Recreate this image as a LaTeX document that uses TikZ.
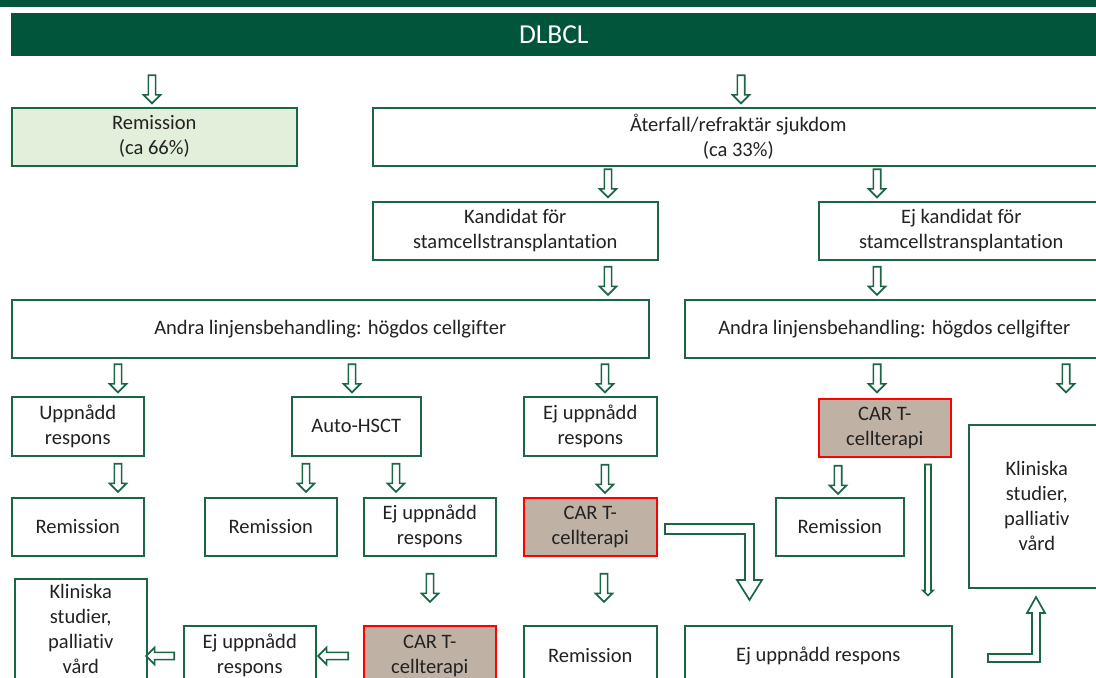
\documentclass[tikz,border=0pt]{standalone}
\usepackage{fontspec}
\setmainfont{Carlito}[Ligatures={NoCommon}]
\usepackage{tikz}
\usetikzlibrary{positioning,calc,shapes.arrows}
\definecolor{morkgron}{HTML}{00553B}
\definecolor{gron}{HTML}{1B6645}
\definecolor{ljusgron}{HTML}{E2EFDA}
\definecolor{brun}{HTML}{C0B1A5}
\definecolor{textgra}{HTML}{222222}
\tikzset{
     ruta/.style 2 args = {draw=gron, line width=1.1pt, fill=white, text=textgra,
                           minimum width=#1*0.025cm, minimum height=#2*0.025cm,
                           inner sep=0pt, align=center, anchor=north west,
                           font=\fontsize{14.6pt}{17.7pt}\selectfont},
     ljus/.style = {fill=ljusgron},
     cart/.style = {draw=red, fill=brun},     % CAR T-rutor
      pil/.style = {single arrow, draw=gron, fill=white, line width=1.2pt,
                    minimum height=0.7cm, inner sep=0.07cm,
                    single arrow head extend=0.12cm, single arrow head indent=0pt},
      ned/.style = {pil, rotate=-90},
  vanster/.style = {pil, rotate=180},
   pilram/.style = {draw=gron, fill=white, line width=1.2pt, line join=miter},
}

\begin{document}
\begin{tikzpicture}[x=0.025cm,y=-0.025cm]
 \path[use as bounding box, clip] (0,0) rectangle (1096,677);
 \fill[morkgron] (0,0) rectangle (1096,7);
 \node[ruta={1086}{43}, fill=morkgron, draw=none, text=white,
       font=\fontsize{19.5pt}{22pt}\selectfont] (dlbcl) at (10,12) {DLBCL};
 % nivå 1
 \node[ruta={285}{58}, ljus] (rem0) at (11,107) {Remission\\(ca 66\%)};
 \node[ruta={731}{58}] (aterfall) at (372,107) {Återfall/refraktär sjukdom\\(ca 33\%)};
 % nivå 2
 \node[ruta={285}{58}] (kand) at (372,201) {Kandidat för\\stamcellstransplantation};
 \node[ruta={285}{58}] (ejkand) at (818,201) {Ej kandidat för\\stamcellstransplantation};
 \node[ruta={637}{58}] (andraV) at (11,299) {Andra linjensbehandling: högdos cellgifter};
 \node[ruta={419}{58}] (andraH) at (684,299) {Andra linjensbehandling: högdos cellgifter};
 % nivå 3
 \node[ruta={132}{59}] (uppn) at (11,396) {Uppnådd\\respons};
 \node[ruta={129}{59}] (auto) at (291,396) {Auto-HSCT};
 \node[ruta={133}{59}] (ejupp1) at (523,396) {Ej uppnådd\\respons};
 \node[ruta={132}{58}, cart] (cart1) at (818,398) {CAR T-\\cellterapi};
 \node[ruta={136}{163}] (klin1) at (968,424) {Kliniska\\studier,\\palliativ\\vård};
 % nivå 4
 \node[ruta={132}{58}] (rem1) at (11,497) {Remission};
 \node[ruta={132}{58}] (rem2) at (204,497) {Remission};
 \node[ruta={132}{58}] (ejupp2) at (363,497) {Ej uppnådd\\respons};
 \node[ruta={133}{58}, cart] (cart2) at (523,497) {CAR T-\\cellterapi};
 \node[ruta={128}{58}] (rem3) at (775,497) {Remission};
 % nivå 5
 \node[ruta={132}{100}] (klin2) at (14,578) {Kliniska\\studier,\\palliativ\\vård};
 \node[ruta={132}{60}] (ejupp3) at (183,625) {Ej uppnådd\\respons};
 \node[ruta={132}{60}, cart] (cart3) at (363,625) {CAR T-\\cellterapi};
 \node[ruta={133}{60}] (rem4) at (523,625) {Remission};
 \node[ruta={267}{60}] (ejupp4) at (684,625) {Ej uppnådd respons};
 % pilar
 \foreach \x/\y [count=\i] in {152/87.5, 741/87.5, 608/181.5, 877/181.5, 608/279,
     877/279, 118/376.5, 352/376.5, 605/376.5, 877/376.5, 1066/376.5, 118/476,
     306/476, 396/476, 605/477, 838/478, 430/586, 604/586}
   \node[ned] (p\i) at (\x,\y) {};
 \node[vanster] (v1) at (162,656) {};
 \node[vanster, minimum height=0.75cm] (v2) at (335,656) {};
 \node[pil, rotate=-90, minimum height=131*0.025cm, inner sep=0.055cm,
       single arrow head extend=0.05cm] (lang) at (928,528.5) {};
 \draw[pilram] (665,524) -- (754,524) -- (754,580) -- (762,580) -- (749.5,600)
   -- (737,580) -- (745,580) -- (745,534) -- (665,534) -- cycle;
 \draw[pilram] (988,654) -- (1032,654) -- (1032,613) -- (1027,613) -- (1036,597)
   -- (1045,613) -- (1040,613) -- (1040,662) -- (988,662) -- cycle;
\end{tikzpicture}
\end{document}
